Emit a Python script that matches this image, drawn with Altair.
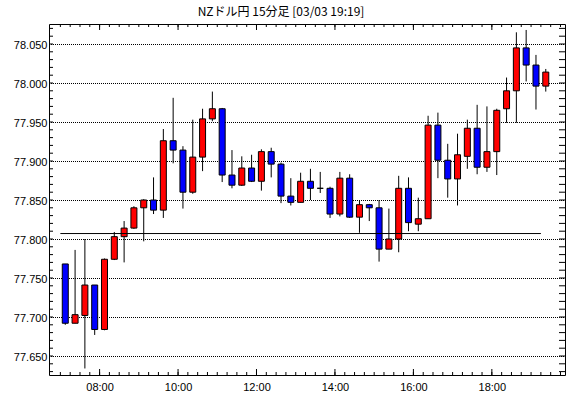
import altair as alt
import pandas as pd

# ---- data (NZD/JPY 15-minute candles, 07:00 .. 19:15) ----
start_minute = 7 * 60  # 07:00
interval = 15
opens = [77.768, 77.692, 77.702, 77.741, 77.684, 77.774, 77.803, 77.814, 77.840, 77.850,
         77.837, 77.926, 77.914, 77.860, 77.905, 77.954, 77.967, 77.882, 77.869, 77.891,
         77.874, 77.912, 77.896, 77.855, 77.847, 77.874, 77.865, 77.865, 77.832, 77.878,
         77.828, 77.844, 77.840, 77.787, 77.800, 77.865, 77.819, 77.826, 77.946, 77.901,
         77.877, 77.906, 77.942, 77.892, 77.912, 77.967, 77.990, 78.045, 78.023, 77.996]
highs = [77.768, 77.786, 77.800, 77.741, 77.775, 77.809, 77.823, 77.842, 77.851, 77.879,
         77.941, 77.981, 77.919, 77.953, 77.967, 77.989, 77.968, 77.914, 77.906, 77.908,
         77.915, 77.917, 77.898, 77.878, 77.885, 77.890, 77.886, 77.867, 77.886, 77.883,
         77.850, 77.845, 77.850, 77.839, 77.881, 77.879, 77.853, 77.958, 77.962, 77.922,
         77.935, 77.953, 77.972, 77.970, 77.967, 78.007, 78.065, 78.068, 78.036, 78.018]
lows = [77.690, 77.692, 77.634, 77.677, 77.683, 77.773, 77.770, 77.813, 77.797, 77.832,
        77.827, 77.897, 77.839, 77.858, 77.887, 77.951, 77.873, 77.865, 77.868, 77.873,
        77.862, 77.879, 77.846, 77.843, 77.847, 77.850, 77.859, 77.827, 77.829, 77.827,
        77.808, 77.823, 77.771, 77.787, 77.783, 77.810, 77.810, 77.826, 77.878, 77.853,
        77.843, 77.890, 77.883, 77.886, 77.882, 77.949, 77.949, 78.002, 77.966, 77.989]
closes = [77.692, 77.703, 77.741, 77.684, 77.774, 77.803, 77.814, 77.840, 77.850, 77.837,
          77.926, 77.914, 77.860, 77.905, 77.954, 77.967, 77.882, 77.869, 77.891, 77.874,
          77.912, 77.896, 77.855, 77.847, 77.874, 77.865, 77.865, 77.832, 77.878, 77.828,
          77.844, 77.840, 77.787, 77.800, 77.865, 77.821, 77.826, 77.946, 77.901, 77.877,
          77.908, 77.942, 77.892, 77.912, 77.965, 77.990, 78.045, 78.023, 77.996, 78.014]
ref_level = 77.807          # horizontal reference line
ref_from, ref_to = 420, 1155  # 07:00 .. 19:15 (minutes)

y_label_values = [77.65, 77.70, 77.75, 77.80, 77.85, 77.90, 77.95, 78.00, 78.05]
x_label_minutes = [480, 600, 720, 840, 960, 1080]
x_label_texts = ["08:00", "10:00", "12:00", "14:00", "16:00", "18:00"]
title_text = "NZドル円 15分足 [03/03 19:19]"

# ---- tables ----
n = len(opens)
df = pd.DataFrame({
    "t": [start_minute + interval * i + interval / 2 for i in range(n)],
    "open": opens, "high": highs, "low": lows, "close": closes,
})
df["dir"] = ["up" if c >= o else "down" for o, c in zip(opens, closes)]

ref_df = pd.DataFrame({"x": [ref_from], "x2": [ref_to], "y": [ref_level]})
ytick_df = pd.DataFrame({"v": [round(77.63 + 0.01 * k, 2) for k in range(45)]})
xminor_df = pd.DataFrame({"m": [start_minute + interval * k for k in range(52)]})
xmajor_df = pd.DataFrame({"m": x_label_minutes})

X_DOM = [410.25, 1184.25]
Y_TOP = 78.05 + 20 / 780
Y_DOM = [Y_TOP - 0.45, Y_TOP]
xs = alt.Scale(domain=X_DOM, nice=False, zero=False)
ys = alt.Scale(domain=Y_DOM, nice=False, zero=False)

label_expr = " : ".join(
    f"datum.value == {m} ? '{t}'" for m, t in zip(x_label_minutes, x_label_texts)
) + " : ''"

FONT = "Liberation Sans"

x_axis = alt.Axis(
    values=x_label_minutes, labelExpr=label_expr, title=None, domain=False,
    ticks=False, grid=False, labelPadding=6, labelFont=FONT, labelFontSize=11,
    labelColor="black")
y_axis = alt.Axis(
    values=y_label_values, format=".3f", title=None, domain=False, ticks=False,
    grid=True, gridColor="black", gridDash=[1, 1], gridDashOffset=0.5,
    gridOpacity=1, gridWidth=1,
    labelPadding=2, labelFont=FONT, labelFontSize=11, labelColor="black",
    labelOffset=1)


def X(field):
    return alt.X(field, scale=xs, axis=x_axis, title=None)


def Y(field):
    return alt.Y(field, scale=ys, axis=y_axis, title=None)


wicks = alt.Chart(df).mark_rule(color="black", strokeWidth=1).encode(
    x=X("t:Q"), y=Y("low:Q"), y2="high:Q",
)

bodies = alt.Chart(df).mark_bar(size=6, stroke="black", strokeWidth=1).encode(
    x=X("t:Q"), y=Y("open:Q"), y2="close:Q",
    color=alt.Color("dir:N", scale=alt.Scale(domain=["up", "down"],
                                             range=["#ff0000", "#0000ff"]), legend=None),
)

ref_line = alt.Chart(ref_df).mark_rule(color="black", strokeWidth=1).encode(
    x=X("x:Q"), x2="x2:Q", y=Y("y:Q"),
)

left_ticks = alt.Chart(ytick_df).mark_rule(color="black").encode(
    y=Y("v:Q"), x=alt.value(0), x2=alt.value(4))
right_ticks = alt.Chart(ytick_df).mark_rule(color="black").encode(
    y=Y("v:Q"), x=alt.value(510), x2=alt.value(516))
top_minor = alt.Chart(xminor_df).mark_rule(color="black").encode(
    x=X("m:Q"), y=alt.value(0), y2=alt.value(3))
bot_minor = alt.Chart(xminor_df).mark_rule(color="black").encode(
    x=X("m:Q"), y=alt.value(348), y2=alt.value(351))
top_major = alt.Chart(xmajor_df).mark_rule(color="black").encode(
    x=X("m:Q"), y=alt.value(0), y2=alt.value(6))
bot_major = alt.Chart(xmajor_df).mark_rule(color="black").encode(
    x=X("m:Q"), y=alt.value(345), y2=alt.value(351))

chart = alt.layer(
    wicks, bodies, ref_line, left_ticks, right_ticks, top_minor, bot_minor, top_major, bot_major
).properties(
    width=516, height=351,
    title=alt.TitleParams(text=title_text, font="Noto Sans CJK JP", fontSize=12,
                          fontWeight="normal", anchor="middle", dx=-26, offset=5,
                          frame="group", color="black"),
    autosize=alt.AutoSizeParams(type="none"),
    padding={"left": 49, "top": 24, "right": 5, "bottom": 23},
    background="white",
).configure_view(stroke="black", strokeWidth=1)

chart.save("out.html", embed_options={"renderer": "svg", "actions": False})
